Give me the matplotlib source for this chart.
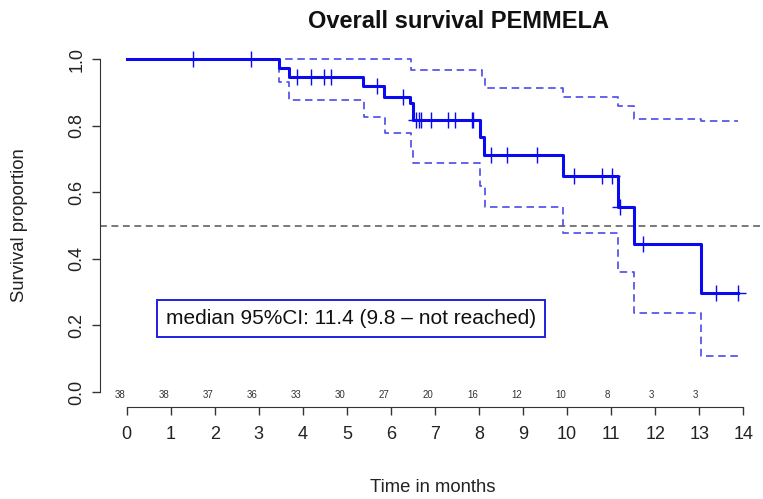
import numpy as np
import matplotlib
matplotlib.use("Agg")
import matplotlib.pyplot as plt

plt.rcParams["font.family"] = ["Liberation Sans", "DejaVu Sans"]

# Kaplan-Meier estimate
surv_times = [0, 3.46, 3.69, 5.36, 5.84, 6.43, 6.49, 6.51, 8.02, 8.11, 9.91, 11.16, 11.52, 13.04]
surv = [1.0, 0.974, 0.947, 0.918, 0.885, 0.867, 0.852, 0.816, 0.765, 0.712, 0.650, 0.557, 0.446, 0.297]
end_time = 13.89

# censored observations
censor_times = [1.50, 2.82, 3.86, 4.18, 4.48, 4.63, 5.68, 6.27, 6.58, 6.64, 6.68,
                6.90, 7.30, 7.45, 7.83, 7.87, 8.27, 8.64, 9.31, 10.16, 10.79,
                11.03, 11.20, 11.73, 13.37, 13.89]

# 95% CI bounds
upper_times = [0, 6.46, 8.06, 8.13, 9.91, 11.16, 11.52, 13.04]
upper = [1.0, 0.967, 0.943, 0.914, 0.885, 0.859, 0.821, 0.815]
lower_times = [0, 3.46, 3.69, 5.38, 5.86, 6.46, 6.51, 8.02, 8.13, 9.91, 11.16, 11.52, 13.04]
lower = [1.0, 0.930, 0.877, 0.827, 0.777, 0.732, 0.689, 0.620, 0.556, 0.477, 0.361, 0.238, 0.109]

# numbers at risk
risk_times = list(range(14))
risk_n = [38, 38, 37, 36, 33, 30, 27, 20, 16, 12, 10, 8, 3, 3]

median_text = "median 95%CI: 11.4 (9.8 \u2013 not reached)"

fig = plt.figure(figsize=(7.63, 4.99), dpi=100)
ax = fig.add_axes([100 / 763, 1 - 406.7 / 499, 663 / 763, 361 / 499])

blue = "#0a0af0"
ci_blue = "#4a4aea"


def step_ext(t, s):
    return np.append(t, end_time), np.append(s, s[-1])


t, s = step_ext(surv_times, surv)
ax.step(t, s, where="post", color=blue, lw=2.2, zorder=4)

t, s = step_ext(upper_times, upper)
ax.step(t, s, where="post", color=ci_blue, lw=1.2, linestyle=(0, (4.5, 2.8)), zorder=3)
t, s = step_ext(lower_times, lower)
ax.step(t, s, where="post", color=ci_blue, lw=1.2, linestyle=(0, (4.5, 2.8)), zorder=3)

idx = np.searchsorted(surv_times, censor_times, side="right") - 1
ax.plot(censor_times, np.array(surv)[idx], linestyle="none", marker="+",
        markersize=11, mew=1.0, color=blue, zorder=5)

ax.axhline(0.5, color="#555555", lw=1.1, linestyle=(0, (4.5, 3)), zorder=2)

for rt, n in zip(risk_times, risk_n):
    ax.text(rt - 0.03, -0.01, str(n), ha="right", va="center", fontsize=7, color="#333333")

ax.text(5.10, 0.221, median_text, ha="center", va="center", fontsize=15, color="#111111",
        bbox=dict(boxstyle="square,pad=0.42", facecolor="white", edgecolor="#2020e0", lw=1.4),
        zorder=6)

ax.set_xlim(-0.606, 14.448)
ax.set_ylim(-0.044, 1.04)
for side in ["top", "right"]:
    ax.spines[side].set_visible(False)
ax.spines["left"].set_bounds(0, 1)
ax.spines["bottom"].set_bounds(0, 14)
ax.spines["left"].set_color("#333333")
ax.spines["bottom"].set_color("#333333")

ax.set_xticks(range(15))
ax.set_yticks([0, 0.2, 0.4, 0.6, 0.8, 1.0])
ax.set_yticklabels(["0.0", "0.2", "0.4", "0.6", "0.8", "1.0"], rotation=90, va="center")
ax.tick_params(axis="both", length=5.8, width=1, color="#333333", labelsize=13,
               labelcolor="#222222")
ax.tick_params(axis="x", pad=8)
ax.tick_params(axis="y", pad=4.5)

ax.set_xlabel("Time in months", fontsize=13.3, color="#222222", va="center")
ax.xaxis.set_label_coords((433 - 100) / 663, -(488 - 406.7) / 361)
ax.set_ylabel("Survival proportion", fontsize=13.3, color="#222222", va="center")
ax.yaxis.set_label_coords((20 - 100) / 663, (406.7 - 225) / 361)

fig.suptitle("Overall survival PEMMELA", x=458.5 / 763, y=1 - 22 / 499, va="center",
             fontsize=17, fontweight="bold", color="#111111")

fig.savefig("out.png", dpi=100)
